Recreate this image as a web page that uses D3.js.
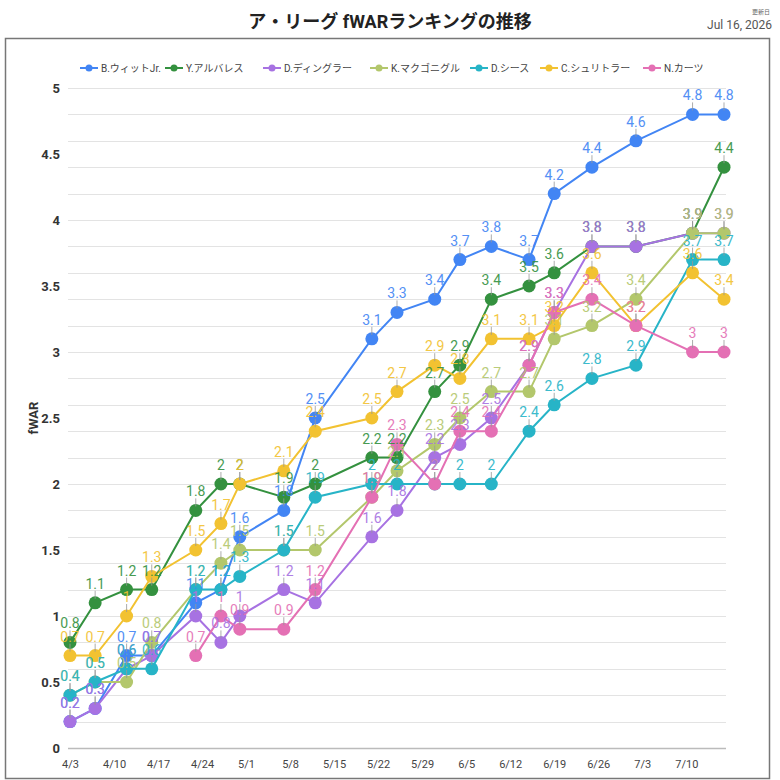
<!DOCTYPE html>
<html>
<head>
<meta charset="utf-8">
<script src="https://cdn.jsdelivr.net/npm/d3@7"></script>
<style>
  body { margin: 0; background: #fff; }
  svg { font-family: Roboto, "Noto Sans CJK JP", sans-serif; }
</style>
</head>
<body>
<svg id="chart" width="780" height="780"></svg>
<script>
// dates of each snapshot
const dates = ["2026-04-03","2026-04-07","2026-04-12","2026-04-16","2026-04-23","2026-04-27","2026-04-30",
  "2026-05-07","2026-05-12","2026-05-21","2026-05-25","2026-05-31","2026-06-04","2026-06-09",
  "2026-06-15","2026-06-19","2026-06-25","2026-07-02","2026-07-11","2026-07-16"];

const players = ["B.ウィットJr.","Y.アルバレス","D.ディングラー","K.マクゴニグル","D.シース","C.シュリトラー","N.カーツ"];
const colors = ["#4285f4","#34913f","#a772e2","#b3c76c","#27b4c7","#f2c231","#e470b4"];

const witt      = [0.2,0.3,0.7,0.7,1.1,1.2,1.6,1.8,2.5,3.1,3.3,3.4,3.7,3.8,3.7,4.2,4.4,4.6,4.8,4.8];
const alvarez   = [0.8,1.1,1.2,1.2,1.8,2.0,2.0,1.9,2.0,2.2,2.2,2.7,2.9,3.4,3.5,3.6,3.8,3.8,3.9,4.4];
const dingler   = [0.2,0.3,0.6,0.7,1.0,0.8,1.0,1.2,1.1,1.6,1.8,2.2,2.3,2.5,2.9,3.3,3.8,3.8,3.9,3.9];
const mcgonigle = [0.4,0.5,0.5,0.8,1.2,1.4,1.5,1.5,1.5,1.9,2.1,2.3,2.5,2.7,2.7,3.1,3.2,3.4,3.9,3.9];
const seese     = [0.4,0.5,0.6,0.6,1.2,1.2,1.3,1.5,1.9,2.0,2.0,2.0,2.0,2.0,2.4,2.6,2.8,2.9,3.7,3.7];
const schlittler= [0.7,0.7,1.0,1.3,1.5,1.7,2.0,2.1,2.4,2.5,2.7,2.9,2.8,3.1,3.1,3.2,3.6,3.2,3.6,3.4];
const kurtz     = [null,null,null,null,0.7,1.0,0.9,0.9,1.2,1.9,2.3,2.0,2.4,2.4,2.9,3.3,3.4,3.2,3.0,3.0];

const seriesValues = [witt, alvarez, dingler, mcgonigle, seese, schlittler, kurtz];

const xTickLabels = ["2026-04-03","2026-04-10","2026-04-17","2026-04-24","2026-05-01","2026-05-08","2026-05-15",
  "2026-05-22","2026-05-29","2026-06-05","2026-06-12","2026-06-19","2026-06-26","2026-07-03","2026-07-10"];
const yTicks = [0,0.5,1,1.5,2,2.5,3,3.5,4,4.5,5];

const parse = d3.timeParse("%Y-%m-%d");
const dateObjs = dates.map(parse);

const svg = d3.select("#chart");

const x = d3.scaleTime().domain(d3.extent(dateObjs)).range([70, 724]);
const y = d3.scaleLinear().domain([0, 5]).range([748, 88]);

// title + update date
svg.append("text").attr("x", 390).attr("y", 28).attr("text-anchor", "middle")
  .attr("font-size", 18).attr("font-weight", "bold").attr("fill", "#222")
  .text("ア・リーグ fWARランキングの推移");
svg.append("text").attr("x", 770).attr("y", 14).attr("text-anchor", "end")
  .attr("font-size", 6).attr("fill", "#666").text("更新日");
svg.append("text").attr("x", 772).attr("y", 29).attr("text-anchor", "end")
  .attr("font-size", 12).attr("fill", "#555").text("Jul 16, 2026");

// frame
svg.append("rect").attr("x", 5.5).attr("y", 38.5).attr("width", 764).attr("height", 740)
  .attr("fill", "none").attr("stroke", "#777").attr("stroke-width", 1.5);

// grid
svg.append("g").selectAll("line").data(y.ticks(20))
  .join("line")
  .attr("x1", 68).attr("x2", 726)
  .attr("y1", d => Math.round(y(d)) + 0.5).attr("y2", d => Math.round(y(d)) + 0.5)
  .attr("stroke", d => d === 0 ? "#bbb" : "#e3e3e3").attr("stroke-width", d => d === 0 ? 1.5 : 1);

// axes
const yAxis = svg.append("g").attr("transform", "translate(70,0)")
  .call(d3.axisLeft(y).tickValues(yTicks).tickSize(0).tickPadding(10).tickFormat(d3.format("")));
yAxis.select(".domain").remove();
yAxis.selectAll("text").attr("font-size", 13).attr("font-weight", "bold").attr("fill", "#333")
  .style("font-family", "Roboto, sans-serif");

const xAxis = svg.append("g").attr("transform", "translate(0,756)")
  .call(d3.axisBottom(x).tickValues(xTickLabels.map(parse)).tickSize(0).tickPadding(4)
    .tickFormat(d3.timeFormat("%-m/%-d")));
xAxis.select(".domain").remove();
xAxis.selectAll("text").attr("font-size", 11).attr("fill", "#444")
  .style("font-family", "Roboto, sans-serif");

svg.append("text").attr("transform", "translate(38,418) rotate(-90)")
  .attr("text-anchor", "middle").attr("font-size", 13).attr("font-weight", "bold").attr("fill", "#333")
  .text("fWAR");

// legend
const legendX = [80, 165, 263, 370, 470, 540, 643];
const legend = svg.append("g").selectAll("g").data(players).join("g")
  .attr("transform", (d, i) => `translate(${legendX[i]},68)`);
legend.append("line").attr("x1", 0).attr("x2", 18).attr("stroke", (d, i) => colors[i]).attr("stroke-width", 2);
legend.append("circle").attr("cx", 9).attr("r", 3.5).attr("fill", (d, i) => colors[i]);
legend.append("text").attr("x", 21).attr("y", 4).attr("font-size", 10).attr("fill", "#444").text(d => d);

// series
const line = d3.line().defined(d => d.v != null).x(d => x(d.date)).y(d => y(d.v));
const series = seriesValues.map((vals, i) => ({
  name: players[i], color: colors[i],
  points: vals.map((v, j) => ({ date: dateObjs[j], v }))
}));

const g = svg.append("g");
series.forEach(s => {
  g.append("path").datum(s.points).attr("d", line)
    .attr("fill", "none").attr("stroke", s.color).attr("stroke-width", 2);
  g.selectAll(null).data(s.points.filter(d => d.v != null)).join("circle")
    .attr("cx", d => x(d.date)).attr("cy", d => y(d.v)).attr("r", 6.5).attr("fill", s.color);
});

// data labels with stems
const lbl = svg.append("g");
series.forEach(s => {
  const pts = s.points.filter(d => d.v != null);
  lbl.selectAll(null).data(pts).join("line")
    .attr("x1", d => x(d.date)).attr("x2", d => x(d.date))
    .attr("y1", d => y(d.v) - 4).attr("y2", d => y(d.v) - 12)
    .attr("stroke", "#999").attr("stroke-width", 1).attr("opacity", 0.8);
  lbl.selectAll(null).data(pts).join("text")
    .attr("x", d => x(d.date)).attr("y", d => y(d.v) - 14)
    .attr("text-anchor", "middle").attr("font-size", 14).attr("fill", s.color).attr("opacity", 0.9)
    .style("font-family", "Roboto, sans-serif")
    .text(d => d3.format("")(d.v));
});
</script>
</body>
</html>
